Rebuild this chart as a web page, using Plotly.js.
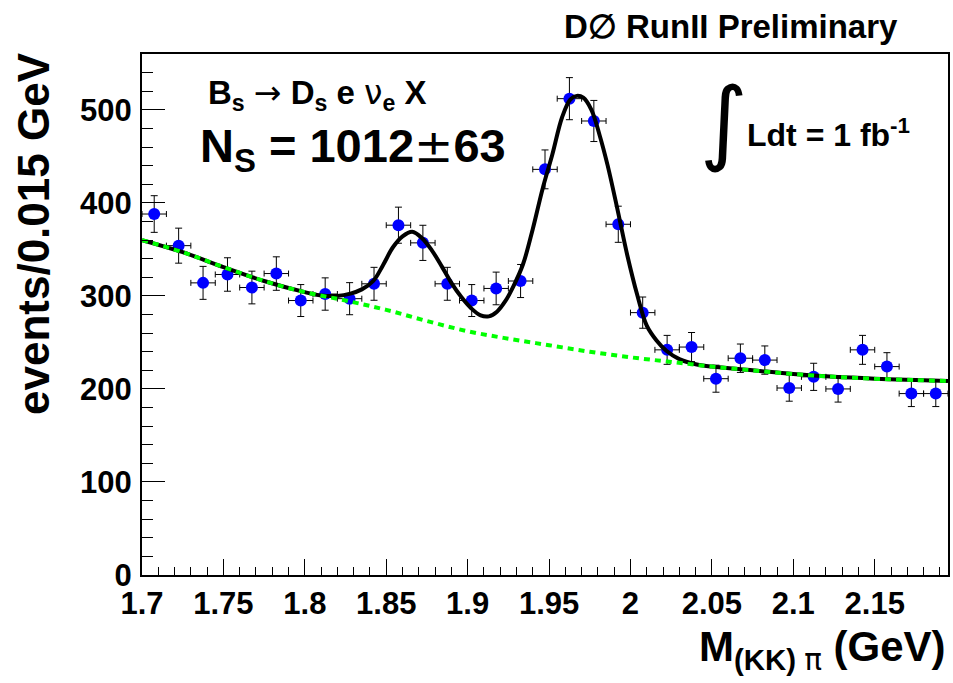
<!DOCTYPE html>
<html>
<head>
<meta charset="utf-8">
<script src="https://cdn.plot.ly/plotly-3.0.1.min.js"></script>
<style>
  html, body { margin: 0; padding: 0; background: #ffffff; }
  #plot { width: 953px; height: 683px; }
</style>
</head>
<body>
<div id="plot"></div>
<script>
// Histogram of the (KK)pi invariant mass, bin width 0.015 GeV
const binCenter = [1.7075, 1.7225, 1.7375, 1.7525, 1.7675, 1.7825, 1.7975, 1.8125, 1.8275, 1.8425,
                   1.8575, 1.8725, 1.8875, 1.9025, 1.9175, 1.9325, 1.9475, 1.9625, 1.9775, 1.9925,
                   2.0075, 2.0225, 2.0375, 2.0525, 2.0675, 2.0825, 2.0975, 2.1125, 2.1275, 2.1425,
                   2.1575, 2.1725, 2.1875];
const events = [388, 354, 314, 323, 309, 324, 295, 302, 297, 313,
                376, 357, 313, 295, 308, 316, 436, 512, 488, 377,
                282, 242, 245, 211, 233, 231, 201, 213, 200, 242,
                224, 195, 195];
const halfBin = 0.0075;

// Fit result: signal (D+ and Ds peaks) plus background, sampled along the mass axis
const fitMass = [1.700, 1.725, 1.750, 1.775, 1.800, 1.810, 1.820, 1.828, 1.835, 1.842,
                 1.848, 1.854, 1.860, 1.866, 1.872, 1.878, 1.884, 1.890, 1.896, 1.902,
                 1.908, 1.913, 1.918, 1.923, 1.928, 1.934, 1.940, 1.946, 1.952, 1.958,
                 1.963, 1.967, 1.971, 1.976, 1.981, 1.986, 1.992, 1.998, 2.004, 2.010,
                 2.016, 2.022, 2.030, 2.040, 2.050, 2.075, 2.100, 2.125, 2.150, 2.175, 2.195];
const fitTotal = [360, 347, 331, 316, 304, 300.5, 300, 302.5, 307, 316,
                  333, 352, 364, 369, 362, 349, 332, 314, 299, 287,
                  279, 278, 283, 294, 310, 334, 372, 415, 452, 492,
                  511, 515, 513, 500, 473, 440, 393, 344, 302, 268,
                  252, 241, 232, 226.5, 224, 220, 216, 213, 211, 209.5, 208.5];

// Background component of the fit
const bkgMass = [1.700, 1.725, 1.750, 1.775, 1.800, 1.825, 1.850, 1.875, 1.900, 1.925,
                 1.950, 1.975, 2.000, 2.025, 2.050, 2.075, 2.100, 2.125, 2.150, 2.175, 2.195];
const bkgFit = [360, 347, 331, 316, 304, 295, 285, 273, 262, 254,
                247, 240, 234, 229, 224, 220, 216, 213, 211, 209.5, 208.5];

// Axis tick labels
const xTickVals = [1.7, 1.75, 1.8, 1.85, 1.9, 1.95, 2.0, 2.05, 2.1, 2.15];
const xTickText = ['1.7', '1.75', '1.8', '1.85', '1.9', '1.95', '2', '2.05', '2.1', '2.15'];
const yTickVals = [0, 100, 200, 300, 400, 500];
const yTickText = ['0', '100', '200', '300', '400', '500'];

// Poisson uncertainty on each bin count
const poissonErr = events.map(n => Math.sqrt(n));

const FONT = 'Liberation Sans, Arial, Helvetica, sans-serif';
const SYMBOL_FONT = 'DejaVu Sans, ' + FONT;

const traces = [
  {
    type: 'scatter', mode: 'markers',
    x: binCenter, y: events,
    marker: { color: '#0000ff', size: 12, line: { width: 0 } },
    error_y: { type: 'data', array: poissonErr, visible: true, color: '#000000', thickness: 1, width: 3.5 },
    error_x: { type: 'constant', value: halfBin, visible: true, color: '#000000', thickness: 1, width: 3 },
    hoverinfo: 'x+y'
  },
  {
    type: 'scatter', mode: 'lines',
    x: fitMass, y: fitTotal,
    line: { color: '#000000', width: 4, shape: 'spline', smoothing: 1 },
    hoverinfo: 'skip'
  },
  {
    type: 'scatter', mode: 'lines',
    x: bkgMass, y: bkgFit,
    line: { color: '#00ff00', width: 4, dash: '6px,5px', shape: 'spline', smoothing: 1 },
    hoverinfo: 'skip'
  }
];

// plot-area geometry in pixels, used to place the text boxes
const PL = 142, PR = 948, PT = 54, PB = 575;
const px = v => (v - PL) / (PR - PL);
const py = v => (PB - v) / (PB - PT);

function label(text, x, y, size, opts) {
  return Object.assign({
    text: text, xref: 'paper', yref: 'paper', x: px(x), y: py(y),
    showarrow: false, xanchor: 'left', yanchor: 'middle',
    font: { family: FONT, size: size, color: '#000000', weight: 'bold' }
  }, opts || {});
}

const thin = s => '<span style="font-family:DejaVu Sans;font-weight:normal">' + s + '</span>';

const annotations = [
  label('D\u2205 RunII Preliminary', 731, 27, 33, { xanchor: 'center' }),
  label('B<sub>s</sub> ' + thin('\u2192') + ' D<sub>s</sub> e ' + thin('\u03bd') + '<sub>e</sub> X', 206, 94, 33),
  label('N<sub>S</sub> = 1012' + thin('\u00b1') + '63', 198, 148, 47),
  label('\u222b', 724, 122, 92, { xanchor: 'center', font: { family: SYMBOL_FONT, size: 92, color: '#000000' } }),
  label('Ldt = 1 fb<sup>-1</sup>', 745, 133, 32),
  label('events/0.015 GeV', 33, 234, 44, { xanchor: 'center', textangle: -90 }),
  label('M<sub>(KK) ' + thin('\u03c0') + '</sub> (GeV)', 948, 650, 42, { xanchor: 'right' })
];

const axisCommon = {
  showline: true, linecolor: '#000000', linewidth: 2, mirror: true,
  showgrid: false, zeroline: false,
  ticks: 'inside', tickcolor: '#000000', tickwidth: 1,
  tickfont: { family: FONT, size: 31, color: '#000000', weight: 'bold' },
  tickmode: 'array'
};

const layout = {
  width: 953, height: 683,
  margin: { l: PL, r: 953 - PR, t: PT, b: 683 - PB, pad: 0 },
  paper_bgcolor: '#ffffff', plot_bgcolor: '#ffffff',
  showlegend: false,
  font: { family: FONT, color: '#000000' },
  xaxis: Object.assign({}, axisCommon, {
    range: [1.7, 2.195], tickvals: xTickVals, ticktext: xTickText, ticklen: 16,
    ticklabelstandoff: 0,
    minor: { tickmode: 'linear', tick0: 1.7, dtick: 0.01, ticks: 'inside', ticklen: 8, tickcolor: '#000000', tickwidth: 1, showgrid: false }
  }),
  yaxis: Object.assign({}, axisCommon, {
    range: [0, 560], tickvals: yTickVals, ticktext: yTickText, ticklen: 23,
    ticklabelstandoff: 2,
    minor: { tickmode: 'linear', tick0: 0, dtick: 20, ticks: 'inside', ticklen: 11, tickcolor: '#000000', tickwidth: 1, showgrid: false }
  }),
  annotations: annotations
};

Plotly.newPlot('plot', traces, layout, { displayModeBar: false, staticPlot: true });
</script>
</body>
</html>
